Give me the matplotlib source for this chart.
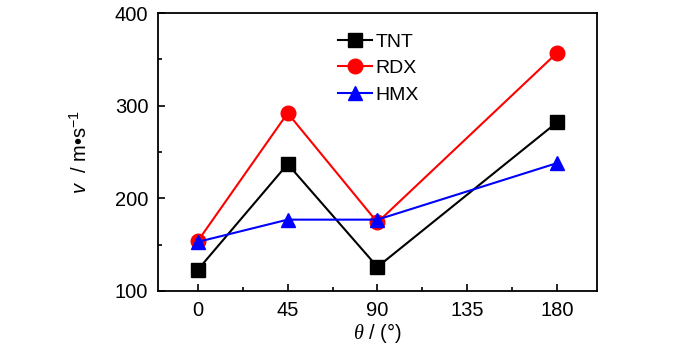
import matplotlib.pyplot as plt
from matplotlib.ticker import MultipleLocator

plt.rcParams["font.family"] = ["Liberation Sans Narrow", "Liberation Sans", "DejaVu Sans"]
plt.rcParams["mathtext.fontset"] = "custom"
plt.rcParams["mathtext.it"] = "Liberation Serif:italic"
plt.rcParams["mathtext.sf"] = "Liberation Sans:italic"
plt.rcParams["mathtext.rm"] = "Liberation Sans"

angles = [0, 45, 90, 180]
tnt = [123, 237, 126, 282]
rdx = [154, 292, 174, 357]
hmx = [153, 177, 177, 238]

fig = plt.figure(figsize=(7, 3.48), dpi=100)
ax = fig.add_axes([0.2257, 0.1638, 0.627, 0.7988])

ax.plot(angles, tnt, color="black", marker="s", markersize=9.5, lw=1.5, label="TNT")
ax.plot(angles, rdx, color="red", marker="o", markersize=10.5, lw=1.5, label="RDX")
ax.plot(angles, hmx, color="blue", marker="^", markersize=9.5, lw=1.5, label="HMX")

ax.set_xlim(-20, 200)
ax.set_ylim(100, 400)
ax.xaxis.set_major_locator(MultipleLocator(45))
ax.xaxis.set_minor_locator(MultipleLocator(22.5))
ax.yaxis.set_major_locator(MultipleLocator(100))
ax.yaxis.set_minor_locator(MultipleLocator(50))
ax.tick_params(which="both", direction="in", labelsize=14.5, width=1.2)
ax.tick_params(which="major", length=5, pad=7)
ax.tick_params(which="minor", length=3)
for spine in ax.spines.values():
    spine.set_linewidth(1.3)

ax.set_xlabel(r"$\it{\theta}$ / (°)", fontsize=14.5, labelpad=1)
ax.set_ylabel(r"$\mathsf{v}$  / m•s$^{\mathregular{-1}}$", fontsize=14.5, labelpad=17)

ax.legend(loc="upper left", bbox_to_anchor=(0.37, 0.99), frameon=False,
          fontsize=14, handlelength=1.75, handletextpad=0.2, labelspacing=0.45)

fig.savefig("out.png", dpi=100)
